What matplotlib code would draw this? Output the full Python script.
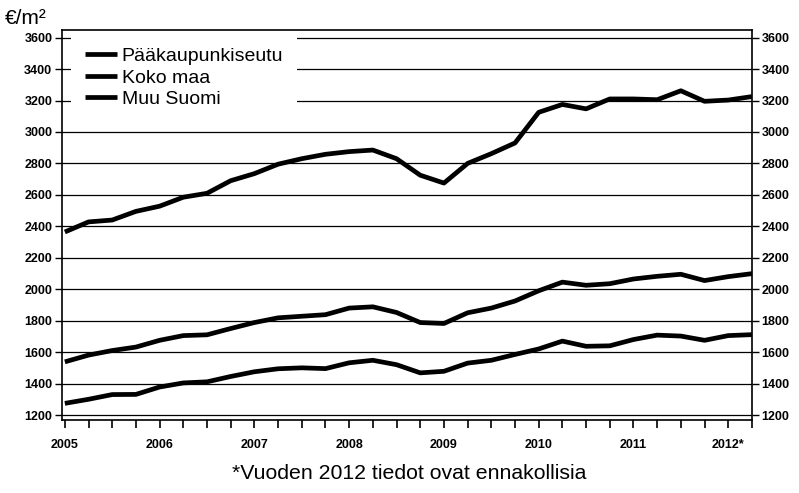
import matplotlib
matplotlib.use("Agg")
import matplotlib.pyplot as plt
import numpy as np
from matplotlib.ticker import MultipleLocator, FixedLocator

plt.rcParams['font.family'] = ['Liberation Sans', 'DejaVu Sans']

# quarterly readings, 2005 Q1 .. 2012 Q2
quarters = [2005 + q / 4 for q in range(30)]

paakaupunkiseutu = [2364, 2428, 2440, 2495, 2528, 2585, 2610, 2690, 2735, 2795,
                    2830, 2858, 2875, 2885, 2830, 2725, 2675, 2800, 2862, 2930,
                    3125, 3175, 3147, 3210, 3210, 3205, 3262, 3195, 3203, 3225]
koko_maa = [1538, 1581, 1610, 1632, 1675, 1705, 1710, 1750, 1788, 1818,
            1828, 1838, 1880, 1888, 1852, 1788, 1782, 1850, 1880, 1925,
            1990, 2045, 2025, 2035, 2065, 2082, 2095, 2055, 2080, 2099]
muu_suomi = [1274, 1300, 1330, 1331, 1378, 1404, 1411, 1445, 1475, 1494,
             1500, 1495, 1532, 1548, 1520, 1468, 1478, 1530, 1548, 1585,
             1620, 1670, 1637, 1640, 1680, 1708, 1702, 1675, 1705, 1711]

series_names = ['Pääkaupunkiseutu', 'Koko maa', 'Muu Suomi']
year_labels = ['2005', '2006', '2007', '2008', '2009', '2010', '2011', '2012*']
y_ticks = list(range(1200, 3601, 200))

fig = plt.figure(figsize=(7.99, 4.93), dpi=100)
ax = fig.add_axes([0.0776, 0.148, 0.8635, 0.791])

for vals, name in zip([paakaupunkiseutu, koko_maa, muu_suomi], series_names):
    ax.plot(quarters, vals, color='black', lw=3.4, solid_capstyle='butt', label=name)

ax.set_xlim(2004.97, 2012.25)
ax.set_ylim(1168, 3648)

ax.yaxis.set_major_locator(FixedLocator(y_ticks))
ax.grid(axis='y', color='black', lw=0.9)
ax.set_axisbelow(True)

ax.xaxis.set_major_locator(FixedLocator(range(2005, 2013)))
ax.xaxis.set_minor_locator(MultipleLocator(0.25))
ax.set_xticklabels(year_labels, fontsize=9, fontweight='bold')
ax.tick_params(axis='x', which='both', direction='out', length=6, width=1.2, pad=8)
ax.tick_params(axis='y', which='both', direction='out', length=5, width=1.0,
               labelsize=9, right=True, labelright=True, pad=2)
for lbl in ax.get_yticklabels():
    lbl.set_fontweight('bold')

for side in ax.spines.values():
    side.set_linewidth(1.2)

# legend sits on a white patch that hides the gridlines behind it
leg = ax.legend(loc='upper left', bbox_to_anchor=(0.013, 0.99), frameon=True,
                fontsize=14, handlelength=1.65, handletextpad=0.25, labelspacing=0.2,
                borderaxespad=0.0, borderpad=0.7, fancybox=False)
leg.get_frame().set_facecolor('white')
leg.get_frame().set_edgecolor('none')
leg.get_frame().set_alpha(1.0)

fig.text(0.006, 0.962, '€/m²', fontsize=15, ha='left', va='center')
fig.text(0.512, 0.04, '*Vuoden 2012 tiedot ovat ennakollisia', fontsize=15.3,
         ha='center', va='center')

fig.savefig('out.png', dpi=100)
